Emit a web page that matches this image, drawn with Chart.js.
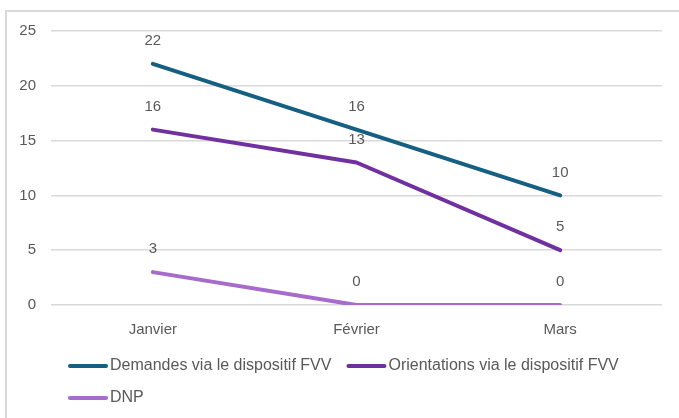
<!DOCTYPE html>
<html lang="fr">
<head>
  <meta charset="UTF-8">
  <title>Demandes FVV</title>
  <script src="https://cdn.jsdelivr.net/npm/chart.js"></script>
  <style>
    html, body {
      margin: 0;
      padding: 0;
      background: #fff;
    }

    .wrap {
      position: relative;
      width: 679px;
      height: 418px;
      overflow: hidden;
    }

    .frame {
      position: absolute;
      left: 5px;
      top: 10px;
      width: 720px;
      height: 460px;
      border: 2px solid #d9d9d9;
      box-sizing: border-box;
    }

    canvas {
      position: absolute;
      left: 0;
      top: 0;
    }
  </style>
</head>
<body>
  <div class="wrap">
    <div class="frame"></div>
    <canvas id="chart" width="679" height="418"></canvas>
  </div>

  <script>
    const mois = ['Janvier', 'Février', 'Mars'];
    const demandes = [22, 16, 10];
    const orientations = [16, 13, 5];
    const dnp = [3, 0, 0];
    const yTicks = [0, 5, 10, 15, 20, 25];

    const police = '"Liberation Sans", Arial, sans-serif';
    const gris = '#595959';

    // etiquettes au-dessus des points
    const etiquettes = {
      id: 'etiquettes',
      afterDatasetsDraw(chart) {
        const ctx = chart.ctx;
        ctx.save();
        ctx.font = '15px ' + police;
        ctx.fillStyle = gris;
        ctx.textAlign = 'center';
        ctx.textBaseline = 'middle';
        chart.data.datasets.forEach((ds, i) => {
          chart.getDatasetMeta(i).data.forEach((pt, j) => {
            ctx.fillText(ds.data[j], pt.x, pt.y - 23);
          });
        });
        ctx.restore();
      }
    };

    // legende en bas, alignee a gauche
    const legende = {
      id: 'legende',
      afterDraw(chart) {
        const ctx = chart.ctx;
        ctx.save();
        ctx.font = '16px ' + police;
        ctx.textBaseline = 'middle';
        let x = 68, y = 366;
        chart.data.datasets.forEach(ds => {
          const w = 40 + 2 + ctx.measureText(ds.label).width;
          if (x + w > 662) { x = 68; y += 32; }
          ctx.strokeStyle = ds.borderColor;
          ctx.lineWidth = 4;
          ctx.lineCap = 'round';
          ctx.beginPath();
          ctx.moveTo(x + 2, y);
          ctx.lineTo(x + 38, y);
          ctx.stroke();
          ctx.fillStyle = gris;
          ctx.fillText(ds.label, x + 42, y);
          x += w + 15;
        });
        ctx.restore();
      }
    };

    new Chart(document.getElementById('chart'), {
      type: 'line',
      data: {
        labels: mois,
        datasets: [
          { label: 'Demandes via le dispositif FVV', data: demandes, borderColor: '#156082' },
          { label: 'Orientations via le dispositif FVV', data: orientations, borderColor: '#7030a0' },
          { label: 'DNP', data: dnp, borderColor: '#a66bcb' }
        ]
      },
      options: {
        responsive: false,
        animation: false,
        layout: { padding: { left: 0, right: 17, top: 31, bottom: 73 } },
        elements: {
          line: { borderWidth: 4, tension: 0, borderCapStyle: 'round', borderJoinStyle: 'round' },
          point: { radius: 0, hoverRadius: 0 }
        },
        plugins: {
          legend: { display: false },
          tooltip: { enabled: false }
        },
        scales: {
          x: {
            offset: true,
            grid: { display: false },
            border: { display: false },
            ticks: { color: gris, font: { family: police, size: 15 }, padding: 8 },
            afterFit(axis) { axis.height = 40; }
          },
          y: {
            min: 0,
            max: 25,
            afterBuildTicks(axis) { axis.ticks = yTicks.map(v => ({ value: v })); },
            grid: { color: '#d9d9d9', lineWidth: 1.5, drawTicks: false },
            border: { display: false },
            ticks: { color: gris, font: { family: police, size: 15 }, padding: 15 },
            afterFit(axis) { axis.width = 51; }
          }
        }
      },
      plugins: [etiquettes, legende]
    });
  </script>
</body>
</html>
